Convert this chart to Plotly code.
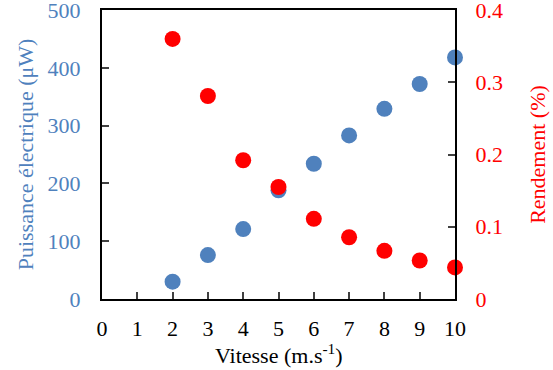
import plotly.graph_objects as go

vitesse = [2, 3, 4, 5, 6, 7, 8, 9, 10]
puissance = [30, 76, 121, 188, 234, 283, 329, 372, 418]
rendement = [0.360, 0.281, 0.192, 0.155, 0.111, 0.0855, 0.0667, 0.0533, 0.0437]

x_ticks = list(range(0, 11))
y1_ticks = [0, 100, 200, 300, 400, 500]
y2_ticks = [0, 0.1, 0.2, 0.3, 0.4]

BLUE = "#4F81BD"
RED = "#FF0000"
FONT = "Liberation Serif"
FS = 22

fig = go.Figure()
fig.add_trace(go.Scatter(x=vitesse, y=puissance, mode="markers",
                         marker=dict(color=BLUE, size=16), yaxis="y", cliponaxis=False))
fig.add_trace(go.Scatter(x=vitesse, y=rendement, mode="markers",
                         marker=dict(color=RED, size=16), yaxis="y2", cliponaxis=False))

fig.update_layout(
    width=553, height=370,
    margin=dict(l=102, r=98, t=10, b=71),
    paper_bgcolor="white", plot_bgcolor="white",
    showlegend=False,
    font=dict(family=FONT, size=FS, color="black"),
    xaxis=dict(range=[0, 10], tickvals=x_ticks, ticktext=[str(v) for v in x_ticks],
               showline=True, linecolor="black", linewidth=2, mirror=True,
               ticks="inside", ticklen=7, tickcolor="#404040", tickwidth=1.5,
               showgrid=False, zeroline=False, ticklabelstandoff=9,
               automargin=False, ticklabeloverflow="allow",
               tickfont=dict(family=FONT, size=FS, color="black")),
    yaxis=dict(range=[0, 500], tickvals=y1_ticks,
               showline=True, linecolor="black", linewidth=2,
               ticks="inside", ticklen=7, tickcolor="#404040", tickwidth=1.5,
               showgrid=False, zeroline=False, ticklabelstandoff=15,
               automargin=False, ticklabeloverflow="allow",
               tickfont=dict(color=BLUE, size=FS, family=FONT),
               title=dict(text="Puissance électrique (μW)", standoff=8,
                          font=dict(color=BLUE, size=FS, family=FONT))),
    yaxis2=dict(range=[0, 0.4], tickvals=y2_ticks, ticktext=["0", "0.1", "0.2", "0.3", "0.4"],
                overlaying="y", side="right",
                showline=True, linecolor="black", linewidth=2,
                ticks="inside", ticklen=7, tickcolor="#404040", tickwidth=1.5,
                showgrid=False, zeroline=False, ticklabelstandoff=14,
                automargin=False, ticklabeloverflow="allow",
                tickfont=dict(color=RED, size=FS, family=FONT),
                title=dict(text="Rendement (%)", standoff=28,
                           font=dict(color=RED, size=FS, family=FONT))),
    annotations=[dict(text="Vitesse (m.s<sup>-1</sup>)", xref="paper", yref="paper",
                      x=0.5, y=-0.19, xanchor="center", yanchor="middle",
                      showarrow=False, font=dict(family=FONT, size=FS, color="black"))],
)

fig.write_html("out.html", config={"displayModeBar": False},
               post_script="document.body.style.margin='0';")
